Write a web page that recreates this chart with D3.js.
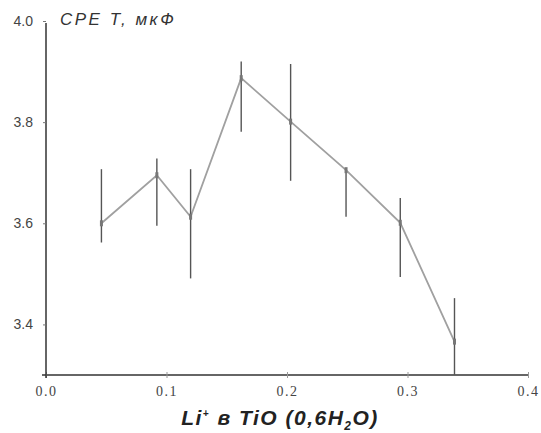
<!DOCTYPE html>
<html><head><meta charset="utf-8">
<script src="https://cdn.jsdelivr.net/npm/d3@7"></script>
<style>body{margin:0;background:#fff}svg{display:block}</style>
</head><body>
<svg id="c" width="541" height="433"></svg>
<script>
const xValues = [0.046, 0.092, 0.120, 0.162, 0.203, 0.249, 0.294, 0.339];
const yValues = [3.600, 3.695, 3.613, 3.887, 3.801, 3.705, 3.601, 3.366];
const yUpper  = [3.707, 3.728, 3.707, 3.920, 3.915, 3.707, 3.650, 3.452];
const yLower  = [3.562, 3.595, 3.491, 3.781, 3.684, 3.613, 3.494, 3.300];
const xTicks = [0.0, 0.1, 0.2, 0.3, 0.4];
const yTicks = [3.4, 3.6, 3.8, 4.0];

const svg = d3.select("#c");
const x = d3.scaleLinear().domain([0, 0.4]).range([46, 528]);
const y = d3.scaleLinear().domain([3.3, 4.0]).range([375, 21]);

// axes
const xAxis = svg.append("g").attr("transform","translate(0,375)")
  .call(d3.axisBottom(x).tickValues(xTicks).tickFormat(d3.format(".1f")).tickSize(3).tickPadding(8));
xAxis.select(".domain").attr("stroke","#333").attr("stroke-width",1.3).attr("d","M42,0H528");
xAxis.selectAll(".tick line").attr("stroke","#999").attr("y1",-3).attr("y2",3);
xAxis.selectAll(".tick text").attr("fill","#444").style("font-family","Liberation Serif")
  .style("font-size","14px").style("letter-spacing","1.5px");

const yAxis = svg.append("g").attr("transform","translate(46,0)")
  .call(d3.axisLeft(y).tickValues(yTicks).tickFormat(d3.format(".1f")).tickSize(3).tickPadding(10));
yAxis.select(".domain").attr("stroke","#333").attr("stroke-width",1.5).attr("d","M0,378V23");
yAxis.selectAll(".tick line").attr("stroke","#777");
yAxis.selectAll(".tick text").attr("fill","#444").style("font-family","Liberation Sans")
  .style("font-size","14px");

// line
const pts = xValues.map((v,i)=>[v,yValues[i]]);
svg.append("path").datum(pts)
  .attr("fill","none").attr("stroke","#a0a0a0").attr("stroke-width",1.8)
  .attr("d", d3.line().x(d=>x(d[0])).y(d=>y(d[1])));

// error bars
svg.append("g").selectAll("line").data(xValues).join("line")
  .attr("x1",d=>x(d)).attr("x2",d=>x(d))
  .attr("y1",(d,i)=>y(yUpper[i])).attr("y2",(d,i)=>y(yLower[i]))
  .attr("stroke","#555").attr("stroke-width",1.4);

// point marks
svg.append("g").selectAll("rect").data(xValues).join("rect")
  .attr("x",d=>x(d)-1.5).attr("y",(d,i)=>y(yValues[i])-3)
  .attr("width",3).attr("height",6).attr("fill","#777");

// titles
svg.append("text").attr("x",60).attr("y",25)
  .style("font-family","Liberation Sans").style("font-style","italic")
  .style("font-size","17px").style("letter-spacing","2.5px").attr("fill","#333").text("CPE T, мкФ");

const xl = svg.append("text").attr("x",280).attr("y",425).attr("text-anchor","middle")
  .style("font-family","Liberation Sans").style("font-style","italic").style("font-weight","bold")
  .style("font-size","21px").style("letter-spacing","1.5px").attr("fill","#222");
xl.append("tspan").text("Li");
xl.append("tspan").attr("dy",-8).style("font-size","10px").text("+");
xl.append("tspan").attr("dy",8).text(" в TiO (0,6H");
xl.append("tspan").attr("dy",5).style("font-size","12px").text("2");
xl.append("tspan").attr("dy",-5).text("O)");
</script>
</body></html>
